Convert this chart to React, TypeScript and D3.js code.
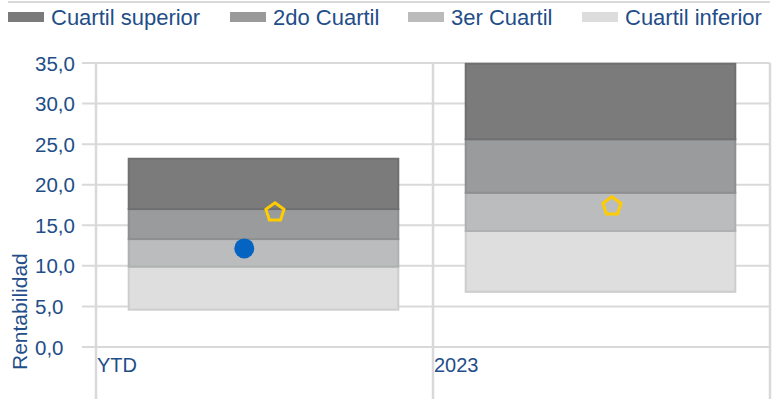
import { useEffect, useRef } from 'react'
import * as d3 from 'd3'

// Categories and quartile segments (Excel-style stacked: invisible base + ranges)
const categories = ['YTD', '2023']
const baseValues = [4.6, 6.8]
const cuartilInferior = [5.3, 7.5]
const tercerCuartil = [3.4, 4.7]
const segundoCuartil = [3.7, 6.6]
const cuartilSuperior = [6.2, 9.3]

// Markers
const fondoValues = [12.15, null]
const benchmarkValues = [16.6, 17.35]

const yTicks = [0, 5, 10, 15, 20, 25, 30, 35]
const legendLabels = ['Cuartil superior', '2do Cuartil', '3er Cuartil', 'Cuartil inferior']

const textColor = '#1f4e89'
const gridColor = '#d9d9d9'
const font = '"Liberation Sans", Arial, sans-serif'

export default function App() {
  const svgRef = useRef<SVGSVGElement>(null)

  useEffect(() => {
    if (!svgRef.current) return
    document.body.style.margin = '0'

    const width = 778
    const height = 410

    const svg = d3.select(svgRef.current)
    svg.selectAll('*').remove()
    svg.attr('width', width).attr('height', height)

    const rows = categories.map((c, i) => ({
      category: c,
      base: baseValues[i],
      inferior: cuartilInferior[i],
      tercero: tercerCuartil[i],
      segundo: segundoCuartil[i],
      superior: cuartilSuperior[i]
    }))

    const keys = ['base', 'inferior', 'tercero', 'segundo', 'superior']
    const fills: Record<string, string> = {
      base: 'none',
      inferior: '#dedede',
      tercero: '#bbbcbd',
      segundo: '#9a9b9c',
      superior: '#7b7b7c'
    }
    const strokes: Record<string, string> = {
      base: 'none',
      inferior: '#cdcdcd',
      tercero: '#afb0b1',
      segundo: '#8e8f90',
      superior: '#707071'
    }

    const x = d3.scaleBand()
      .domain(categories)
      .range([96, 770])
      .paddingInner(0)

    const y = d3.scaleLinear()
      .domain([0, 35])
      .range([347, 63])

    // top border line
    svg.append('line')
      .attr('x1', 8).attr('x2', 770)
      .attr('y1', 2).attr('y2', 2)
      .attr('stroke', gridColor)
      .attr('stroke-width', 2)

    // Horizontal gridlines
    svg.selectAll('.hgrid')
      .data(yTicks)
      .join('line')
      .attr('class', 'hgrid')
      .attr('x1', 82)
      .attr('x2', 770)
      .attr('y1', d => y(d))
      .attr('y2', d => y(d))
      .attr('stroke', gridColor)
      .attr('stroke-width', 2)

    // Vertical category separators
    const edges = [...categories.map(c => x(c) || 0), 770]
    svg.selectAll('.vgrid')
      .data(edges)
      .join('line')
      .attr('class', 'vgrid')
      .attr('x1', d => d)
      .attr('x2', d => d)
      .attr('y1', y(35))
      .attr('y2', 399)
      .attr('stroke', gridColor)
      .attr('stroke-width', 2.5)

    // Y tick labels
    svg.selectAll('.ytick')
      .data(yTicks)
      .join('text')
      .attr('class', 'ytick')
      .attr('x', 35)
      .attr('y', d => y(d))
      .attr('dominant-baseline', 'central')
      .attr('fill', textColor)
      .attr('font-family', font)
      .attr('font-size', '20.5px')
      .text(d => d.toFixed(1).replace('.', ','))

    // Y axis title
    svg.append('text')
      .attr('transform', 'translate(27,370) rotate(-90)')
      .attr('fill', textColor)
      .attr('font-family', font)
      .attr('font-size', '21px')
      .text('Rentabilidad')

    // Category labels
    svg.selectAll('.xlabel')
      .data(categories)
      .join('text')
      .attr('class', 'xlabel')
      .attr('x', d => (x(d) || 0) + 1)
      .attr('y', 372)
      .attr('fill', textColor)
      .attr('font-family', font)
      .attr('font-size', '20px')
      .text(d => d)

    // Stacked quartile bars
    const stacked = d3.stack<any>().keys(keys)(rows)
    const barW = x.bandwidth() * 0.8
    const barOff = x.bandwidth() * 0.1

    svg.selectAll('.series')
      .data(stacked.filter(s => s.key !== 'base'))
      .join('g')
      .attr('class', 'series')
      .attr('fill', s => fills[s.key])
      .attr('stroke', s => strokes[s.key])
      .attr('stroke-width', 2)
      .selectAll('rect')
      .data(s => s)
      .join('rect')
      .attr('x', d => (x(d.data.category) || 0) + barOff - 1)
      .attr('y', d => y(d[1]))
      .attr('width', barW)
      .attr('height', d => y(d[0]) - y(d[1]))

    // Blue circle marker (fund)
    const fondo = categories
      .map((c, i) => ({ category: c, value: fondoValues[i] }))
      .filter(d => d.value !== null)
    svg.selectAll('.fondo')
      .data(fondo)
      .join('circle')
      .attr('class', 'fondo')
      .attr('cx', d => (x(d.category) || 0) + x.bandwidth() * 0.44)
      .attr('cy', d => y(d.value as number))
      .attr('r', 10)
      .attr('fill', '#0563c1')

    // Yellow pentagon marker (benchmark)
    const pentagon = d3.range(5).map(k => {
      const a = -Math.PI / 2 + (k * 2 * Math.PI) / 5
      return [Math.cos(a) * 9.5, Math.sin(a) * 9.5] as [number, number]
    })
    const pentPath = 'M' + pentagon.map(p => p.join(',')).join('L') + 'Z'
    svg.selectAll('.bench')
      .data(categories.map((c, i) => ({ category: c, value: benchmarkValues[i] })))
      .join('path')
      .attr('class', 'bench')
      .attr('d', pentPath)
      .attr('transform', d => `translate(${(x(d.category) || 0) + x.bandwidth() * 0.531},${y(d.value)})`)
      .attr('fill', 'none')
      .attr('stroke', '#ffcc00')
      .attr('stroke-width', 3)
      .attr('stroke-linejoin', 'miter')

    // Legend
    const legendColors = ['#7a7a7a', '#9a9a9a', '#bbbbbb', '#dddddd']
    const legendX = [8, 230, 408, 582]
    const legend = svg.selectAll('.legend')
      .data(legendLabels)
      .join('g')
      .attr('class', 'legend')
      .attr('transform', (_, i) => `translate(${legendX[i]},0)`)

    legend.append('rect')
      .attr('x', 0)
      .attr('y', 12)
      .attr('width', 36)
      .attr('height', 10)
      .attr('fill', (_, i) => legendColors[i])

    legend.append('text')
      .attr('x', 43)
      .attr('y', 17)
      .attr('dominant-baseline', 'central')
      .attr('fill', textColor)
      .attr('font-family', font)
      .attr('font-size', '22px')
      .text(d => d)
  }, [])

  return (
    <div>
      <svg ref={svgRef} style={{ display: 'block' }}></svg>
    </div>
  )
}
